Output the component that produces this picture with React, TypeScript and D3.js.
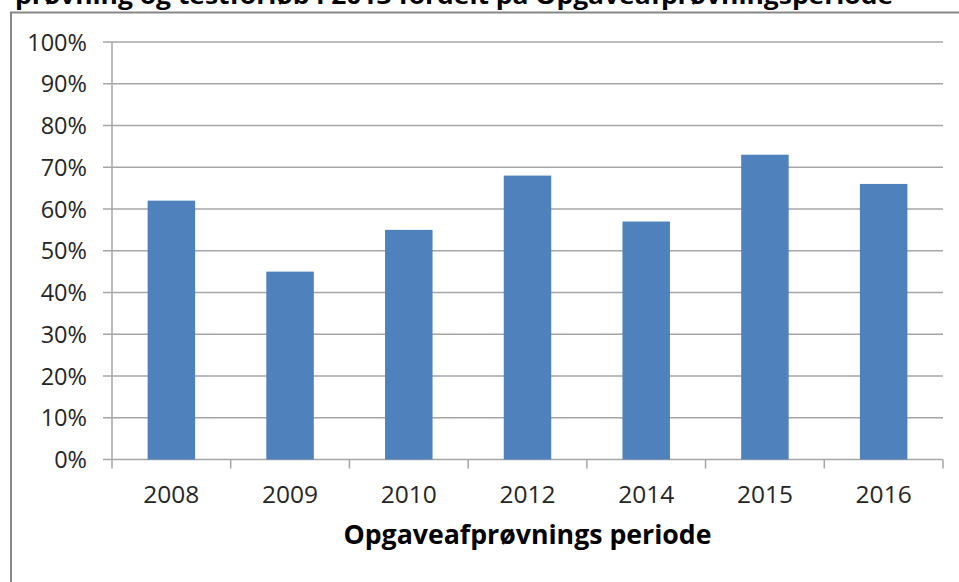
import React from "react";
import * as d3 from "d3";

const categories = ["2008", "2009", "2010", "2012", "2014", "2015", "2016"];
const values = [62, 45, 55, 68, 57, 73, 66];
const yTicks = [0, 10, 20, 30, 40, 50, 60, 70, 80, 90, 100];
const titleText = "prøvning og testforløb i 2013 fordelt på Opgaveafprøvningsperiode";
const xAxisTitle = "Opgaveafprøvnings periode";

const W = 959;
const H = 582;
const left = 112;
const right = 943;
const top = 42;
const bottom = 459.5;
const font = "'Open Sans', 'Liberation Sans', sans-serif";

export default function App() {
  const x = d3
    .scaleBand<string>()
    .domain(categories)
    .range([left, right])
    .paddingInner(0.6)
    .paddingOuter(0.3);
  const y = d3.scaleLinear().domain([0, 100]).range([bottom, top]);
  const step = (right - left) / categories.length;
  const boundaries = d3.range(categories.length + 1).map((i) => left + i * step);

  return (
    <svg
      width={W}
      height={H}
      style={{ position: "absolute", left: 0, top: 0, background: "#fff" }}
      fontFamily={font}
    >
      <rect x={0} y={0} width={W} height={H} fill="#fff" />
      <text
        x={15}
        y={3.5}
        fontSize={24}
        fontWeight="bold"
        fill="#000"
        textLength={878}
        lengthAdjust="spacingAndGlyphs"
      >
        {titleText}
      </text>
      {/* chart frame */}
      <path d={`M11,${H + 5} V12.5 H${W + 5}`} fill="none" stroke="#878787" strokeWidth={2} />

      {/* gridlines */}
      {yTicks.map((t) => (
        <line
          key={"g" + t}
          x1={left - 9}
          x2={right}
          y1={y(t)}
          y2={y(t)}
          stroke="#a6a6a6"
          strokeWidth={1.5}
        />
      ))}
      {/* bars */}
      {categories.map((c, i) => (
        <rect
          key={c}
          x={x(c)}
          y={y(values[i])}
          width={x.bandwidth()}
          height={y(0) - y(values[i])}
          fill="#4f81bd"
        />
      ))}
      {/* y axis line */}
      <line x1={left} x2={left} y1={top} y2={bottom} stroke="#a6a6a6" strokeWidth={1.5} />
      {/* x axis ticks */}
      {boundaries.map((b, i) => (
        <line key={"t" + i} x1={b} x2={b} y1={bottom} y2={bottom + 9} stroke="#a6a6a6" strokeWidth={1.5} />
      ))}
      {/* y labels */}
      {yTicks.map((t) => (
        <text
          key={"l" + t}
          x={87}
          y={y(t) + 8.5}
          fontSize={23.5}
          textAnchor="end"
          fill="#262626"
        >
          {t + "%"}
        </text>
      ))}
      {/* x labels */}
      {categories.map((c) => (
        <text
          key={"x" + c}
          x={(x(c) as number) + x.bandwidth() / 2}
          y={503}
          fontSize={24.5}
          textAnchor="middle"
          fill="#262626"
        >
          {c}
        </text>
      ))}
      <text
        x={(left + right) / 2}
        y={544}
        fontSize={26.7}
        fontWeight="bold"
        textAnchor="middle"
        fill="#000"
      >
        {xAxisTitle}
      </text>
    </svg>
  );
}
